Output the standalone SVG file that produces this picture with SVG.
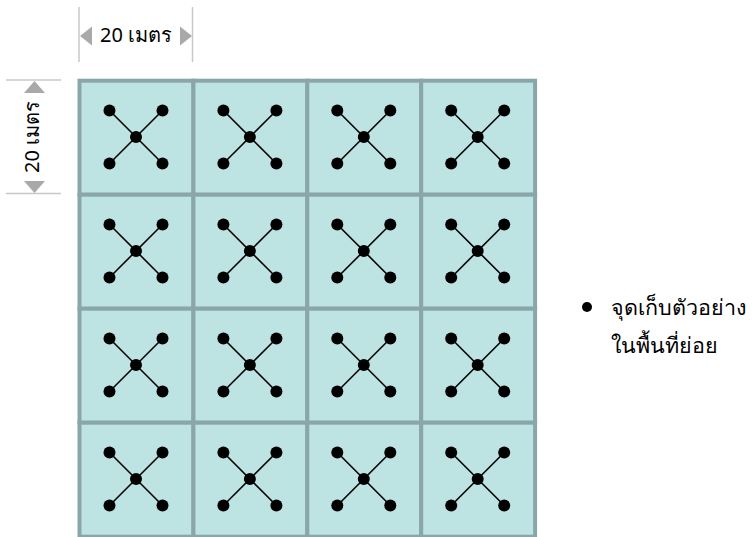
<svg xmlns="http://www.w3.org/2000/svg" width="752" height="537" viewBox="0 0 752 537">
<style>
.cell{fill:#bde3e3;stroke:#8ba6a8;stroke-width:4}
.ln{stroke:#000;stroke-width:1.6}
.dot{fill:#000}
.dim{stroke:#c8c8c8;stroke-width:1.5}
.tri{fill:#a9a9a9}
.t{font-family:"Noto Sans","DejaVu Sans",sans-serif;fill:#000}
</style>
<defs>
<g id="x">
<line class="ln" x1="-26.5" y1="-26.5" x2="26.5" y2="26.5"/>
<line class="ln" x1="26.5" y1="-26.5" x2="-26.5" y2="26.5"/>
<circle class="dot" cx="-26.5" cy="-26.5" r="6"/>
<circle class="dot" cx="26.5" cy="-26.5" r="6"/>
<circle class="dot" cx="0" cy="0" r="6"/>
<circle class="dot" cx="-26.5" cy="26.5" r="6"/>
<circle class="dot" cx="26.5" cy="26.5" r="6"/>
</g>
</defs>
<g id="dim-top">
<line class="dim" x1="79" y1="7" x2="79" y2="62"/>
<line class="dim" x1="192.5" y1="7" x2="192.5" y2="62"/>
<polygon class="tri" points="80,36 92,26.5 92,45.5"/>
<polygon class="tri" points="192,36 180,26.5 180,45.5"/>
<text class="t" x="136" y="42" font-size="20" text-anchor="middle">20 เมตร</text>
</g>
<g id="dim-left">
<line class="dim" x1="6" y1="80" x2="61" y2="80"/>
<line class="dim" x1="6" y1="193.5" x2="61" y2="193.5"/>
<polygon class="tri" points="34.5,81 24,93 45,93"/>
<polygon class="tri" points="34.5,193 24,181 45,181"/>
<text class="t" transform="translate(39,137) rotate(-90)" font-size="20" text-anchor="middle">20 เมตร</text>
</g>
<g id="grid">
<rect class="cell" x="79.5" y="80.7" width="113.9" height="114"/>
<rect class="cell" x="193.4" y="80.7" width="113.9" height="114"/>
<rect class="cell" x="307.3" y="80.7" width="113.9" height="114"/>
<rect class="cell" x="421.2" y="80.7" width="113.9" height="114"/>
<rect class="cell" x="79.5" y="194.7" width="113.9" height="114"/>
<rect class="cell" x="193.4" y="194.7" width="113.9" height="114"/>
<rect class="cell" x="307.3" y="194.7" width="113.9" height="114"/>
<rect class="cell" x="421.2" y="194.7" width="113.9" height="114"/>
<rect class="cell" x="79.5" y="308.7" width="113.9" height="114"/>
<rect class="cell" x="193.4" y="308.7" width="113.9" height="114"/>
<rect class="cell" x="307.3" y="308.7" width="113.9" height="114"/>
<rect class="cell" x="421.2" y="308.7" width="113.9" height="114"/>
<rect class="cell" x="79.5" y="422.7" width="113.9" height="114"/>
<rect class="cell" x="193.4" y="422.7" width="113.9" height="114"/>
<rect class="cell" x="307.3" y="422.7" width="113.9" height="114"/>
<rect class="cell" x="421.2" y="422.7" width="113.9" height="114"/>
</g>
<g id="samples">
<use href="#x" x="136" y="137"/>
<use href="#x" x="249.9" y="137"/>
<use href="#x" x="363.8" y="137"/>
<use href="#x" x="477.7" y="137"/>
<use href="#x" x="136" y="251"/>
<use href="#x" x="249.9" y="251"/>
<use href="#x" x="363.8" y="251"/>
<use href="#x" x="477.7" y="251"/>
<use href="#x" x="136" y="365"/>
<use href="#x" x="249.9" y="365"/>
<use href="#x" x="363.8" y="365"/>
<use href="#x" x="477.7" y="365"/>
<use href="#x" x="136" y="479"/>
<use href="#x" x="249.9" y="479"/>
<use href="#x" x="363.8" y="479"/>
<use href="#x" x="477.7" y="479"/>
</g>
<g id="legend">
<circle class="dot" cx="587" cy="307" r="5"/>
<text class="t" x="611" y="315" font-size="21.5">จุดเก็บตัวอย่าง</text>
<text class="t" x="611" y="353" font-size="21.5">ในพื้นที่ย่อย</text>
</g>
</svg>
